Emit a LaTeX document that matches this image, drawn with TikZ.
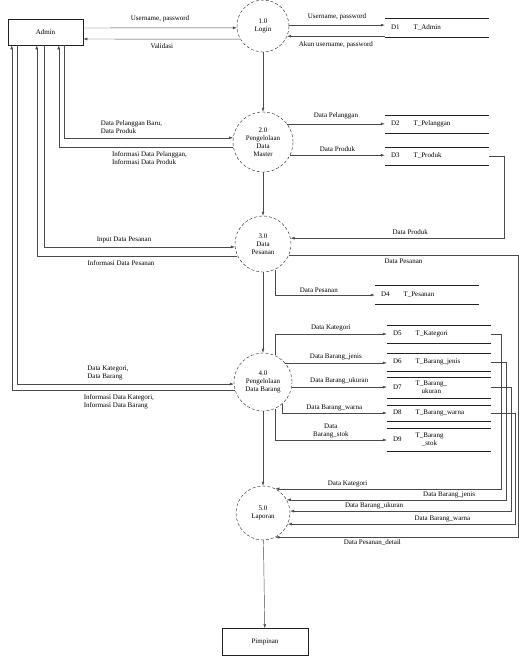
\documentclass[tikz,border=0pt]{standalone}
\usepackage{fontspec}
\setmainfont{Liberation Serif}
\usetikzlibrary{arrows.meta,positioning}
\definecolor{ink}{HTML}{222222}
\definecolor{wire}{HTML}{4A4A4A}

\begin{document}
\begin{tikzpicture}[
  x=1pt, y=-1pt,
  font=\fontsize{7}{8}\selectfont,
  proc/.style={circle, draw=ink, densely dashed, minimum size=#1, inner sep=0pt, align=center},
  proc/.default=56pt,
  ent/.style={rectangle, draw=ink, line width=.5pt, inner sep=2pt},
  storeline/.style={draw=ink, line width=.6pt, solid},
  store/.style={rectangle, minimum width=104pt, minimum height=#1, inner xsep=6pt, inner ysep=0pt,
    text width=92pt, align=left,
    append after command={(\tikzlastnode.north west) edge[storeline] (\tikzlastnode.north east)
      (\tikzlastnode.south west) edge[storeline] (\tikzlastnode.south east)}},
  store/.default=18pt,
  flow/.style={-{Latex[length=4pt,width=2.8pt]}, draw=wire, line width=.45pt},
  lbl/.style={font=\fontsize{7}{8}\selectfont, align=left, inner sep=1pt}
]
  \useasboundingbox (0,0) rectangle (519,657);

  % entities
  \node[ent, minimum width=75pt, minimum height=26pt] (admin) at (45.5,32) {Admin};
  \node[ent, minimum width=86pt, minimum height=27pt] (pimp) at (265,642) {Pimpinan};

  % processes
  \node[proc=52pt] (p1) at (263,26) {1.0\\Login};
  \node[proc=60pt] (p2) at (263,142) {2.0\\Pengelolaan\\Data\\Master};
  \node[proc=56pt] (p3) at (263,244) {3.0\\Data\\Pesanan};
  \node[proc=58pt] (p4) at (263,382) {4.0\\Pengelolaan\\Data Barang};
  \node[proc=54pt] (p5) at (263,513) {5.0\\Laporan};

  % data stores
  \node[store=19pt] (s1) at (437,28) {D1\hspace{14pt}T\_Admin};
  \node[store] (s2) at (437,124) {D2\hspace{14pt}T\_Pelanggan};
  \node[store] (s3) at (437,156) {D3\hspace{14pt}T\_Produk};
  \node[store=19pt] (s4) at (427,295) {D4\hspace{14pt}T\_Pesanan};
  \node[store] (s5) at (439,334) {D5\hspace{14pt}T\_Kategori};
  \node[store] (s6) at (439,362) {D6\hspace{14pt}T\_Barang\_jenis};
  \node[store=21pt] (s7) at (439,387.5) {D7\hspace{14pt}\begin{tabular}[c]{@{}c@{}}T\_Barang\_\\ukuran\end{tabular}};
  \node[store=16pt] (s8) at (439,413) {D8\hspace{14pt}T\_Barang\_warna};
  \node[store=23pt] (s9) at (439,440) {D9\hspace{14pt}\begin{tabular}[c]{@{}c@{}}T\_Barang\\\_stok\end{tabular}};
  \coordinate (rim) at (518,0);

  % login
  \draw[flow] ([yshift=4pt]admin.east) -- (p1.184) node[lbl, midway, above=5pt] {Username, password};
  \draw[flow] (p1.210) -- ([yshift=-7pt]admin.east) node[lbl, midway, below=3pt] {Validasi};
  \draw[flow] (p1.2) -- (p1.2 -| s1.west) node[lbl, midway, above=4pt] {Username, password};
  \draw[flow] (p1.-23 -| s1.west) -- (p1.-23) node[lbl, midway, below=4pt] {Akun username, password};
  \draw[flow] (p1) -- (p2);

  % master data
  \draw[flow] ([xshift=56pt]admin.south west) |- (p2.172) node[lbl, pos=0.7, above=3pt] {Data Pelanggan Baru,\\Data Produk};
  \draw[flow] (p2.190) -| ([xshift=51pt]admin.south west) node[lbl, pos=0.24, below=3pt] {Informasi Data Pelanggan,\\Informasi Data Produk};
  \draw[flow] (p2.37) -- (p2.37 -| s2.west) node[lbl, midway, above=4pt] {Data Pelanggan};
  \draw[flow] (p2.-26) -- (p2.-26 -| s3.west) node[lbl, midway, above=2pt] {Data Produk};
  \draw[flow] (p2) -- (p3);

  % pesanan
  \draw[flow] (s3.east) -- ++(15,0) |- (p3.12) node[lbl, pos=0.72, above=2pt] {Data Produk};
  \draw[flow] ([xshift=36pt]admin.south west) |- (p3.186) node[lbl, pos=0.71, above=3pt] {Input Data Pesanan};
  \draw[flow] (p3.205) -| ([xshift=29pt]admin.south west) node[lbl, pos=0.29, below=3pt] {Informasi Data Pesanan};
  \draw[flow] (p3.-65) |- (s4.west) node[lbl, pos=0.72, above=1pt] {Data Pesanan};
  \draw[flow] (p3.-23) -- (p3.-23 -| rim) node[lbl, midway, below=3pt] {Data Pesanan}
    |- (p5.-63) node[lbl, pos=0.8, below=1pt] {Data Pesanan\_detail};
  \draw[flow] (p3) -- (p4);

  % barang
  \draw[flow] ([xshift=9pt]admin.south west) |- (p4.184) node[lbl, pos=0.71, above=3pt] {Data Kategori,\\Data Barang};
  \draw[flow] (p4.196) -| ([xshift=4pt]admin.south west) node[lbl, pos=0.26, below=3pt] {Informasi Data Kategori,\\Informasi Data Barang};
  \draw[flow] (p4.66) |- (s5.west) node[lbl, pos=0.75, above=2pt] {Data Kategori};
  \draw[flow] (p4.41) -- (p4.41 -| s6.west) node[lbl, midway, above=2pt] {Data Barang\_jenis};
  \draw[flow] (p4.-10) -- (p4.-10 -| s7.west) node[lbl, midway, above=2pt] {Data Barang\_ukuran};
  \draw[flow] (p4.-50) |- (s8.west) node[lbl, pos=0.75, above=1pt] {Data Barang\_warna};
  \draw[flow] (p4.-66) |- (s9.west) node[lbl, pos=0.75, above=1pt, align=center] {Data\\Barang\_stok};
  \draw[flow] (p4) -- (p5);

  % laporan
  \draw[flow] (s5.east) -- ++(10,0) |- (p5.63) node[lbl, pos=0.84, above=1pt] {Data Kategori};
  \draw[flow] (s6.east) -- ++(15,0) |- (p5.29) node[lbl, pos=0.63, above=1pt] {Data Barang\_jenis};
  \draw[flow] (s7.east) -- ++(20,0) |- (p5.4) node[lbl, pos=0.81, above=1pt] {Data Barang\_ukuran};
  \draw[flow] (s8.east) -- ++(24,0) |- (p5.-24) node[lbl, pos=0.66, above=1pt] {Data Barang\_warna};
  \draw[flow] (p5) -- (pimp);
\end{tikzpicture}
\end{document}
